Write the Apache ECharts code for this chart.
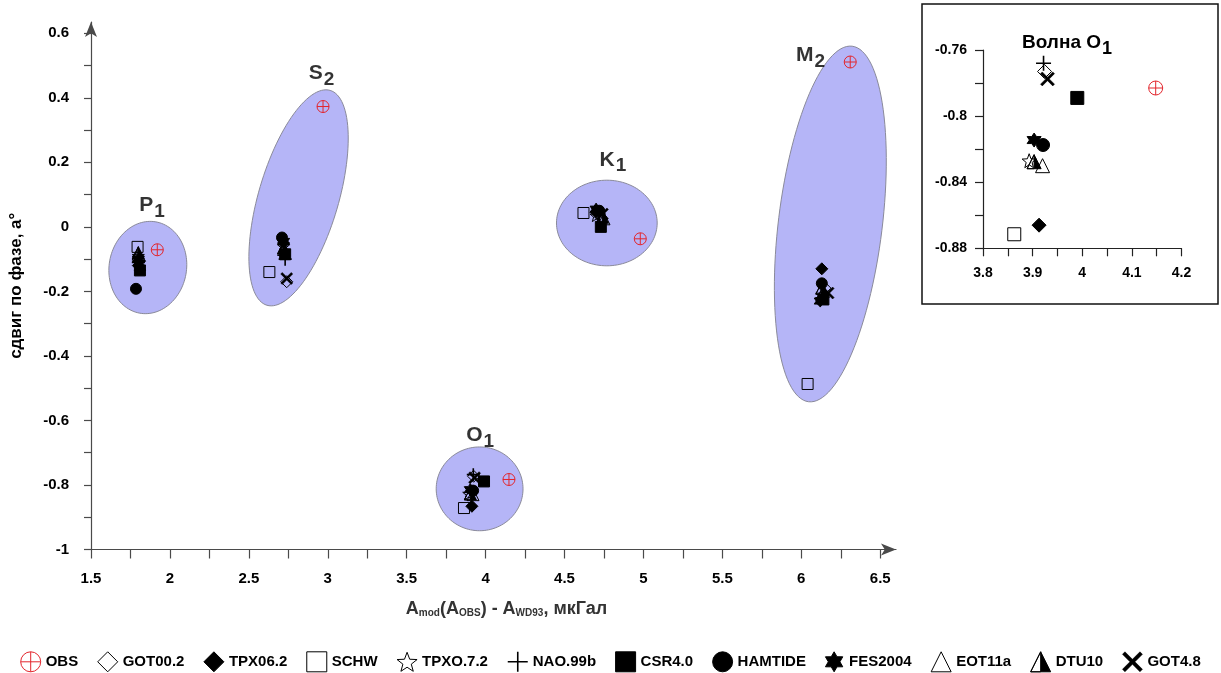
<!DOCTYPE html>
<html>
<head>
<meta charset="utf-8">
<script src="https://cdn.jsdelivr.net/npm/echarts@6/dist/echarts.min.js"></script>
<style>
  html, body { margin: 0; padding: 0; background: #fff; }
  #chart { width: 1221px; height: 673px; }
</style>
</head>
<body>
<div id="chart"></div>
<script>
// Tide models compared against observations, one entry per model
const models = ['OBS', 'GOT00.2', 'TPX06.2', 'SCHW', 'TPXO.7.2', 'NAO.99b',
                'CSR4.0', 'HAMTIDE', 'FES2004', 'EOT11a', 'DTU10', 'GOT4.8'];

// Amplitude difference (мкГал) and phase shift (°) per wave, in model order
const P1_x = [1.92, 1.80, 1.80, 1.795, 1.80, 1.80, 1.81, 1.785, 1.80, 1.80, 1.80, 1.81];
const P1_y = [-0.071, -0.10, -0.12, -0.062, -0.09, -0.11, -0.135, -0.192, -0.10, -0.085, -0.08, -0.12];

const S2_x = [2.97, 2.74, 2.72, 2.63, 2.72, 2.73, 2.73, 2.71, 2.72, 2.72, 2.72, 2.74];
const S2_y = [0.373, -0.17, -0.05, -0.14, -0.06, -0.10, -0.085, -0.033, -0.045, -0.07, -0.065, -0.16];

const K1_x = [4.98, 4.73, 4.70, 4.62, 4.70, 4.72, 4.73, 4.72, 4.70, 4.75, 4.74, 4.74];
const K1_y = [-0.037, 0.03, 0.045, 0.043, 0.035, 0.04, 0.0, 0.05, 0.055, 0.025, 0.03, 0.04];

const O1_x = [4.148, 3.924, 3.913, 3.863, 3.893, 3.922, 3.990, 3.921, 3.903, 3.920, 3.903, 3.930];
const O1_y = [-0.783, -0.773, -0.866, -0.8715, -0.827, -0.768, -0.789, -0.8175, -0.8145, -0.830, -0.8276, -0.7775];

const M2_x = [6.31, 6.15, 6.13, 6.04, 6.13, 6.13, 6.14, 6.13, 6.12, 6.14, 6.13, 6.17];
const M2_y = [0.511, -0.19, -0.13, -0.487, -0.21, -0.22, -0.225, -0.175, -0.23, -0.20, -0.19, -0.205];

// Wave names (letter + subscript) and where their captions sit
const waveLetters = ['P', 'S', 'K', 'O', 'M'];
const waveSubs = ['1', '2', '1', '1', '2'];
const waveLabelX = [1.886, 2.960, 4.806, 3.965, 6.058];
const waveLabelY = [0.068, 0.4775, 0.208, -0.645, 0.533];

// Envelope around each wave's group: centre, end of the long semi-axis, short/long ratio
const envCentreX = [1.86, 2.815, 4.768, 3.962, 6.184];
const envCentreY = [-0.126, 0.09, 0.012, -0.812, 0.009];
const envTipX = [1.911, 3.015, 5.087, 4.237, 6.322];
const envTipY = [0.0155, 0.423, 0.012, -0.812, 0.560];
const envRatio = [0.835, 0.357, 0.85, 0.965, 0.29];

// Axis ticks and labels
const xLabels = [1.5, 2, 2.5, 3, 3.5, 4, 4.5, 5, 5.5, 6, 6.5];
const xTicks = [1.5, 1.75, 2, 2.25, 2.5, 2.75, 3, 3.25, 3.5, 3.75, 4, 4.25, 4.5, 4.75, 5, 5.25, 5.5, 5.75, 6, 6.25, 6.5];
const yLabels = [-1, -0.8, -0.6, -0.4, -0.2, 0, 0.2, 0.4, 0.6];
const yTicks = [-1, -0.9, -0.8, -0.7, -0.6, -0.5, -0.4, -0.3, -0.2, -0.1, 0, 0.1, 0.2, 0.3, 0.4, 0.5, 0.6];
const insetXTicks = [3.8, 3.85, 3.9, 3.95, 4, 4.05, 4.1, 4.15, 4.2];
const insetYTicks = [-0.88, -0.86, -0.84, -0.82, -0.8, -0.78, -0.76];

const waveX = [P1_x, S2_x, K1_x, O1_x, M2_x];
const waveY = [P1_y, S2_y, K1_y, O1_y, M2_y];

// ---------- marker shapes ----------
function starPath(n, rOut, rIn) {
  let d = '';
  for (let k = 0; k < 2 * n; k++) {
    const r = k % 2 === 0 ? rOut : rIn;
    const a = -Math.PI / 2 + k * Math.PI / n;
    const px = (10 + r * Math.cos(a)).toFixed(2);
    const py = (10 + r * Math.sin(a)).toFixed(2);
    d += (k === 0 ? 'M' : 'L') + px + ',' + py;
  }
  return 'path://' + d + 'Z';
}
const CLEAR = 'rgba(0,0,0,0)';
const RED = '#e3262d';
const shapes = {
  'OBS':      { symbol: 'path://M10,0A10,10 0 1 1 10,20A10,10 0 1 1 10,0Z M0,10L20,10 M10,0L10,20', fill: CLEAR, stroke: RED, bw: 1, size: 12 },
  'GOT00.2':  { symbol: 'diamond', fill: CLEAR, stroke: '#000', bw: 1, size: 12 },
  'TPX06.2':  { symbol: 'diamond', fill: '#000', stroke: '#000', bw: 1, size: 12 },
  'SCHW':     { symbol: 'rect', fill: CLEAR, stroke: '#000', bw: 1, size: 11 },
  'TPXO.7.2': { symbol: starPath(5, 10, 4.2), fill: CLEAR, stroke: '#000', bw: 1, size: 12 },
  'NAO.99b':  { symbol: 'path://M0,10L20,10M10,0L10,20', fill: CLEAR, stroke: '#000', bw: 1.6, size: 13 },
  'CSR4.0':   { symbol: 'rect', fill: '#000', stroke: '#000', bw: 1, size: 11 },
  'HAMTIDE':  { symbol: 'circle', fill: '#000', stroke: '#000', bw: 1, size: 11 },
  'FES2004':  { symbol: starPath(6, 10, 5.8), fill: '#000', stroke: '#000', bw: 1, size: 12 },
  'EOT11a':   { symbol: 'triangle', fill: CLEAR, stroke: '#000', bw: 1, size: 12 },
  'DTU10':    { symbol: 'path://M10,0L20,20L0,20Z M10,0L0,20L10,20Z', fill: '#000', stroke: '#000', bw: 1, size: 12 },
  'GOT4.8':   { symbol: 'path://M2.5,0L10,7.5L17.5,0L20,2.5L12.5,10L20,17.5L17.5,20L10,12.5L2.5,20L0,17.5L7.5,10L0,2.5Z', fill: '#000', stroke: '#000', bw: 0.5, size: 12 }
};

const FONT = "'Liberation Sans', Arial, Helvetica, sans-serif";

const series = [];

// Envelopes, drawn beneath the markers
series.push({
  type: 'custom',
  xAxisIndex: 0, yAxisIndex: 0,
  silent: true,
  z: 1,
  data: envCentreX.map((cx, i) => [cx, envCentreY[i], envTipX[i], envTipY[i], envRatio[i]]),
  renderItem: function (params, api) {
    const c = api.coord([api.value(0), api.value(1)]);
    const t = api.coord([api.value(2), api.value(3)]);
    const dx = t[0] - c[0], dy = t[1] - c[1];
    const a = Math.hypot(dx, dy);
    const b = a * api.value(4);
    const ux = dx / a, uy = dy / a;   // long axis direction
    const vx = -uy, vy = ux;          // short axis direction
    const pts = [];
    for (let k = 0; k < 120; k++) {
      const th = k / 120 * Math.PI * 2;
      const p = Math.cos(th) * a, q = Math.sin(th) * b;
      pts.push([c[0] + p * ux + q * vx, c[1] + p * uy + q * vy]);
    }
    return {
      type: 'polygon',
      shape: { points: pts },
      style: { fill: '#b5b5f7', stroke: '#8a8a9a', lineWidth: 1 }
    };
  }
});

// Wave captions
series.push({
  type: 'scatter',
  xAxisIndex: 0, yAxisIndex: 0,
  symbolSize: 1,
  silent: true,
  itemStyle: { color: CLEAR },
  z: 2,
  data: waveLabelX.map((x, i) => [x, waveLabelY[i]]),
  label: {
    show: true,
    position: 'inside',
    formatter: p => '{m|' + waveLetters[p.dataIndex] + '}{s|' + waveSubs[p.dataIndex] + '}',
    rich: {
      m: { fontSize: 21, fontWeight: 'bold', color: '#000', fontFamily: FONT },
      s: { fontSize: 19, fontWeight: 'bold', color: '#000', fontFamily: FONT, padding: [13, 0, 0, 1] }
    }
  }
});

models.forEach((m, i) => {
  const s = shapes[m];
  const common = {
    type: 'scatter',
    name: m,
    symbol: s.symbol,
    itemStyle: { color: s.fill, borderColor: s.stroke, borderWidth: s.bw, opacity: 1 },
    emphasis: { disabled: true },
    z: 3
  };
  series.push(Object.assign({}, common, {
    xAxisIndex: 0, yAxisIndex: 0,
    symbolSize: s.size,
    data: waveX.map((wx, w) => [wx[i], waveY[w][i]])
  }));
  series.push(Object.assign({}, common, {
    xAxisIndex: 1, yAxisIndex: 1,
    symbolSize: s.size + 2,
    data: [[O1_x[i], O1_y[i]]]
  }));
});

const axisGray = '#4a4a4a';
const tickLabel = { fontSize: 15, fontWeight: 'bold', color: '#000', fontFamily: FONT };

const option = {
  animation: false,
  backgroundColor: '#fff',
  grid: [
    { left: 89, top: 22, width: 807, height: 527.5 },
    { left: 983, top: 50, width: 198.5, height: 198.3 }
  ],
  xAxis: [
    {
      type: 'value', gridIndex: 0, min: 1.5, max: 6.6,
      name: '{a|A}{b|mod}{a|(A}{b|OBS}{a|) - A}{b|WD93}{a|, мкГал}',
      nameLocation: 'middle', nameGap: 50,
      nameTextStyle: {
        padding: [0, 0, 0, 26],
        rich: {
          a: { fontSize: 18, fontWeight: 'bold', color: '#333', fontFamily: FONT },
          b: { fontSize: 10, fontWeight: 'bold', color: '#333', fontFamily: FONT, padding: [9, 0, 0, 0] }
        }
      },
      axisLine: { onZero: false, lineStyle: { color: axisGray, width: 1.2 }, symbol: ['none', 'arrow'], symbolSize: [9, 15] },
      axisTick: { customValues: xTicks, length: 9, lineStyle: { color: axisGray, width: 1.2 } },
      axisLabel: Object.assign({ customValues: xLabels, margin: 22 }, tickLabel),
      splitLine: { show: false }
    },
    {
      type: 'value', gridIndex: 1, min: 3.8, max: 4.2, interval: 0.1,
      axisLine: { onZero: false, lineStyle: { color: '#222', width: 1.2 } },
      axisTick: { customValues: insetXTicks, length: 8, lineStyle: { color: '#222', width: 1.2 } },
      axisLabel: Object.assign({ margin: 18 }, tickLabel, { fontSize: 14 }),
      splitLine: { show: false }
    }
  ],
  yAxis: [
    {
      type: 'value', gridIndex: 0, min: -1, max: 0.635,
      name: 'сдвиг по фазе, а°',
      nameLocation: 'middle', nameGap: 66,
      nameTextStyle: { fontSize: 17, fontWeight: 'bold', color: '#000', fontFamily: FONT },
      axisLine: { onZero: false, lineStyle: { color: axisGray, width: 1.2 }, symbol: ['none', 'arrow'], symbolSize: [9, 15] },
      axisTick: { customValues: yTicks, length: 7, lineStyle: { color: axisGray, width: 1.2 } },
      axisLabel: Object.assign({ customValues: yLabels, margin: 22 }, tickLabel),
      splitLine: { show: false }
    },
    {
      type: 'value', gridIndex: 1, min: -0.88, max: -0.76, interval: 0.04,
      axisLine: { onZero: false, lineStyle: { color: '#222', width: 1.2 } },
      axisTick: { customValues: insetYTicks, length: 8, lineStyle: { color: '#222', width: 1.2 } },
      axisLabel: Object.assign({ margin: 16 }, tickLabel, { fontSize: 14 }),
      splitLine: { show: false }
    }
  ],
  legend: {
    top: 646,
    left: 'center',
    itemWidth: 20,
    itemHeight: 20,
    itemGap: 19,
    selectedMode: false,
    textStyle: { fontSize: 15, fontWeight: 'bold', color: '#000', fontFamily: FONT },
    data: models.map(m => ({
      name: m,
      icon: shapes[m].symbol,
      itemStyle: { color: shapes[m].fill, borderColor: shapes[m].stroke, borderWidth: shapes[m].bw }
    }))
  },
  graphic: [
    {
      type: 'rect',
      shape: { x: 922, y: 4, width: 296, height: 300 },
      style: { fill: null, stroke: '#111', lineWidth: 1.5 },
      z: 0
    },
    {
      type: 'text',
      x: 1067, y: 43,
      style: {
        text: '{a|Волна O}{s|1}',
        align: 'center', verticalAlign: 'middle',
        rich: {
          a: { fontSize: 19, fontWeight: 'bold', fill: '#000', fontFamily: FONT },
          s: { fontSize: 18, fontWeight: 'bold', fill: '#000', fontFamily: FONT, padding: [12, 0, 0, 1] }
        }
      },
      z: 10
    }
  ],
  series: series
};

const chart = echarts.init(document.getElementById('chart'), null, { renderer: 'canvas' });
chart.setOption(option);
</script>
</body>
</html>
